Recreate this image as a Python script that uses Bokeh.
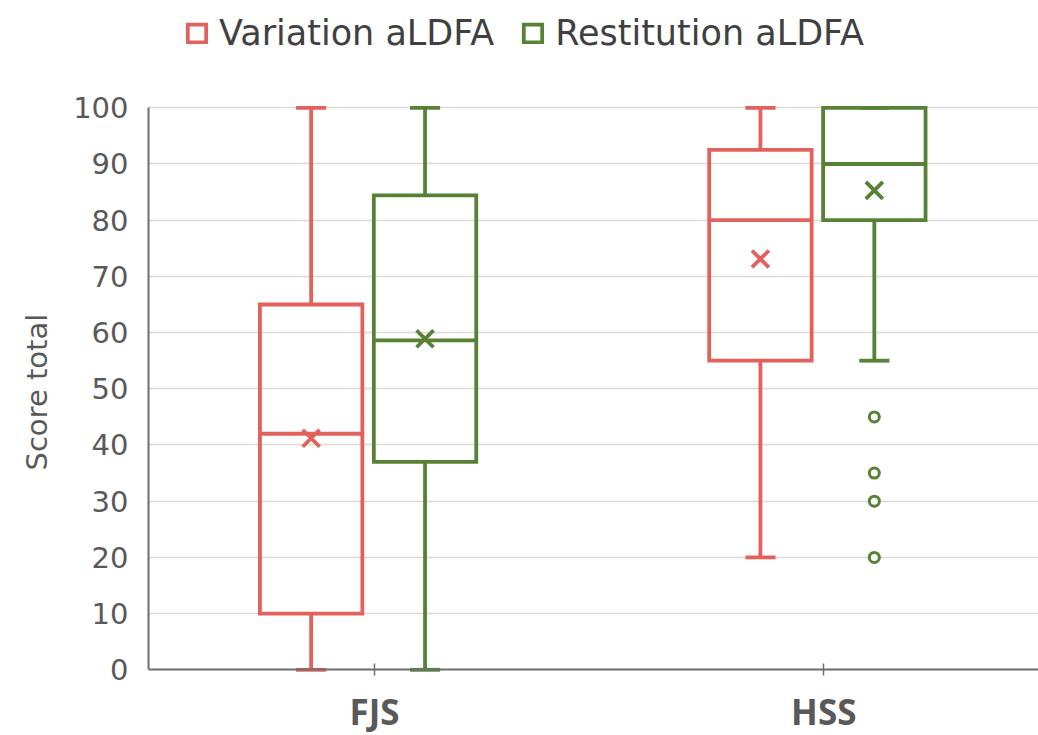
import numpy as np
from bokeh.plotting import figure
from bokeh.models import Range1d, FixedTicker, Legend, LegendItem, ColumnDataSource, Title
from bokeh.embed import file_html
from bokeh.resources import INLINE

# ---------------- data ----------------
categories = ["FJS", "HSS"]
series_names = ["Variation aLDFA", "Restitution aLDFA"]
y_title = "Score total"

var_min = [0, 20]
var_q1 = [10, 55]
var_median = [42, 80]
var_q3 = [65, 92.5]
var_max = [100, 100]
var_mean = [41.2, 73.1]
var_outliers = [[], []]

res_min = [0, 55]
res_q1 = [37, 80]
res_median = [58.6, 90]
res_q3 = [84.4, 100]
res_max = [100, 100]
res_mean = [58.9, 85.3]
res_outliers = [[], [45, 35, 30, 20]]

y_ticks = [0, 10, 20, 30, 40, 50, 60, 70, 80, 90, 100]

# ---------------- style ----------------
RED = "#E2615B"
GREEN = "#578236"
TEXT = "#595959"
BOX_W = 0.228
CAP_W = 0.067
OFFSETS = [-0.141, 0.1125]
LW = 3.8

p = figure(width=1038, height=735, output_backend="svg", toolbar_location=None,
           x_range=Range1d(0.497, 2.4779), y_range=Range1d(-11.69, 119.09),
           min_border_left=148, min_border_right=0, min_border_top=0,
           min_border_bottom=0)
p.outline_line_color = None
p.background_fill_color = "white"
p.border_fill_color = "white"

xpos = np.arange(1, len(categories) + 1, dtype=float)

series = [
    (var_min, var_q1, var_median, var_q3, var_max, var_mean, var_outliers, RED),
    (res_min, res_q1, res_median, res_q3, res_max, res_mean, res_outliers, GREEN),
]

box_renderers = []
for (mn, q1, med, q3, mx, mean, outl, col), off in zip(series, OFFSETS):
    xc = xpos + off
    mn, q1, med, q3, mx, mean = map(np.asarray, (mn, q1, med, q3, mx, mean))
    # whiskers
    p.segment(x0=xc, y0=q3, x1=xc, y1=mx, line_color=col, line_width=LW)
    p.segment(x0=xc, y0=mn, x1=xc, y1=q1, line_color=col, line_width=LW)
    p.segment(x0=xc - CAP_W / 2, y0=mx, x1=xc + CAP_W / 2, y1=mx, line_color=col, line_width=LW)
    p.segment(x0=xc - CAP_W / 2, y0=mn, x1=xc + CAP_W / 2, y1=mn, line_color=col, line_width=LW)
    # box
    src = ColumnDataSource(dict(left=xc - BOX_W / 2, right=xc + BOX_W / 2, bottom=q1, top=q3))
    r = p.quad(left="left", right="right", bottom="bottom", top="top", source=src,
               fill_color="white", fill_alpha=0, line_color=col, line_width=LW,
               line_join="miter")
    box_renderers.append(r)
    # median
    p.segment(x0=xc - BOX_W / 2, y0=med, x1=xc + BOX_W / 2, y1=med, line_color=col, line_width=LW)
    # mean
    p.scatter(x=xc, y=mean, marker="x", size=24, line_color=col, line_width=LW)
    # outliers
    ox, oy = [], []
    for x, vals in zip(xc, outl):
        ox += [x] * len(vals)
        oy += list(vals)
    if ox:
        p.scatter(x=ox, y=oy, marker="circle", size=10, fill_color="white",
                  line_color=col, line_width=3)

# axes
p.xaxis.fixed_location = 0
p.xaxis.ticker = FixedTicker(ticks=list(xpos))
p.xaxis.major_label_overrides = {1: categories[0], 2: categories[1]}
p.xaxis.major_label_text_font = "Open Sans"
p.xaxis.major_label_text_font_style = "bold"
p.xaxis.major_label_text_font_size = "35px"
p.xaxis.major_label_text_color = TEXT
p.xaxis.major_tick_in = 6
p.xaxis.major_tick_out = 6
p.xaxis.major_tick_line_color = "#6f6f6f"
p.xaxis.major_tick_line_width = 1.5
p.xaxis.minor_tick_line_color = None
p.xaxis.axis_line_color = "#6f6f6f"
p.xaxis.axis_line_width = 2
p.xaxis.major_label_standoff = 12

p.yaxis.ticker = FixedTicker(ticks=y_ticks)
p.yaxis.bounds = (0, 100)
p.yaxis.major_label_text_font = "DejaVu Sans"
p.yaxis.major_label_text_font_size = "29px"
p.yaxis.major_label_text_color = TEXT
p.yaxis.major_tick_in = 0
p.yaxis.major_tick_out = 0
p.yaxis.minor_tick_line_color = None
p.yaxis.axis_line_color = "#6f6f6f"
p.yaxis.axis_line_width = 2
p.yaxis.major_label_standoff = 20

p.add_layout(Title(text=y_title, align="left", offset=265, standoff=30,
                   vertical_align="top",
                   text_font="DejaVu Sans", text_font_size="29px",
                   text_font_style="normal", text_color=TEXT), "left")

p.xgrid.grid_line_color = None
p.ygrid.grid_line_color = "#D9D9D9"
p.ygrid.grid_line_width = 1.5

legend = Legend(items=[LegendItem(label=n, renderers=[r]) for n, r in zip(series_names, box_renderers)],
                orientation="horizontal", location=(37, 682),
                border_line_alpha=0, background_fill_alpha=0, padding=0, margin=0,
                spacing=27, label_standoff=11, glyph_width=23, glyph_height=22,
                label_text_font="DejaVu Sans", label_text_font_size="35px",
                label_text_color="#404040")
p.add_layout(legend, "center")

open("out.html", "w").write(file_html(p, INLINE))
